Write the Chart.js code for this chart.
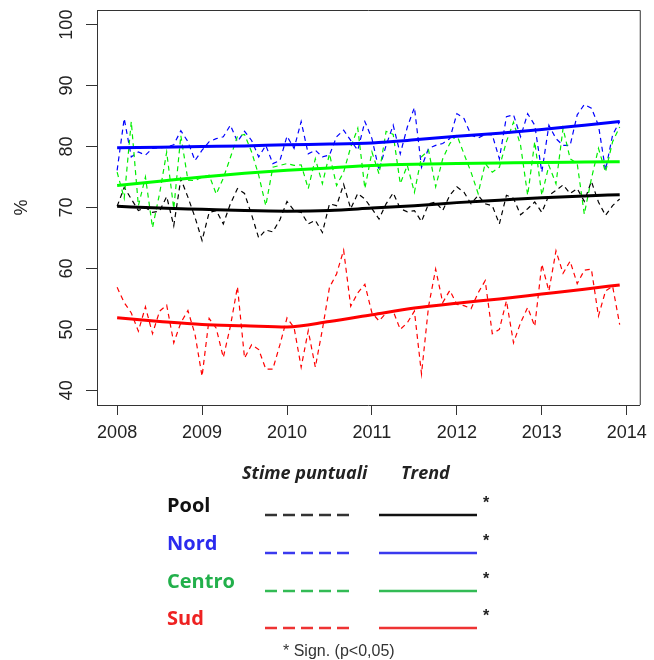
<!DOCTYPE html>
<html>
<head>
<meta charset="utf-8">
<script src="https://cdn.jsdelivr.net/npm/chart.js@4/dist/chart.umd.min.js"></script>
<style>
  html, body { margin: 0; padding: 0; background: #fff; overflow: hidden; }
  canvas { display: block; }
</style>
</head>
<body>
<canvas id="c" width="654" height="660"></canvas>
<script>
// Monthly point estimates, Jan 2008 - Dec 2013 (%)
const firstYear = 2008;
const yearTicks = [2008, 2009, 2010, 2011, 2012, 2013, 2014];
const valueTicks = [40, 50, 60, 70, 80, 90, 100];

const pool = [
  70.2, 73.3, 71.4, 69.5, 70.0, 69.2, 69.4, 71.8, 67.0, 74.7, 71.7, 68.4,
  64.6, 69.2, 69.5, 67.3, 70.6, 73.1, 72.3, 68.8, 65.0, 66.3, 66.0, 68.0,
  71.0, 69.5, 69.2, 67.3, 67.9, 65.9, 70.6, 70.3, 73.8, 69.8, 72.3, 71.4,
  69.8, 68.1, 70.6, 72.4, 69.8, 69.3, 69.5, 67.7, 70.6, 70.9, 69.5, 72.0,
  73.4, 72.5, 70.6, 72.0, 70.6, 70.3, 67.3, 72.0, 71.5, 68.8, 69.8, 70.9,
  69.2, 72.0, 72.8, 73.7, 72.3, 73.1, 71.0, 74.3, 70.9, 68.7, 70.3, 71.4
];
const nord = [
  76.1, 84.6, 78.3, 79.1, 78.6, 79.7, 79.8, 79.9, 80.3, 82.6, 80.8, 77.7,
  79.4, 80.8, 81.3, 81.6, 83.5, 80.8, 82.5, 81.0, 78.3, 80.2, 77.2, 77.7,
  81.7, 79.7, 84.1, 78.8, 79.4, 78.3, 78.6, 81.6, 82.7, 81.0, 79.4, 84.1,
  81.3, 76.1, 80.2, 83.5, 78.8, 83.2, 86.4, 76.6, 79.7, 80.2, 80.5, 81.3,
  85.4, 84.6, 81.9, 81.4, 82.0, 81.9, 78.0, 84.9, 85.2, 81.6, 85.4, 83.5,
  75.8, 83.5, 81.3, 80.2, 80.2, 85.2, 86.9, 86.3, 83.5, 76.1, 81.9, 84.1
];
const centro = [
  75.8, 71.5, 84.1, 70.3, 75.0, 66.7, 72.3, 79.1, 69.8, 81.8, 74.5, 74.4,
  75.0, 75.3, 72.2, 74.8, 78.2, 81.7, 82.0, 79.1, 75.3, 70.3, 76.6, 76.9,
  77.2, 76.9, 77.0, 73.1, 78.0, 73.9, 78.8, 73.6, 75.8, 79.9, 83.0, 73.1,
  79.1, 75.5, 82.5, 82.0, 73.9, 76.9, 72.5, 78.3, 79.4, 73.4, 78.0, 80.5,
  81.9, 78.8, 75.8, 72.3, 77.2, 75.8, 76.6, 80.8, 84.0, 80.2, 72.0, 80.8,
  72.0, 76.9, 73.9, 83.0, 78.0, 77.2, 68.9, 74.7, 79.7, 75.8, 80.8, 83.2
];
const sud = [
  56.9, 54.4, 52.7, 49.7, 53.7, 49.3, 53.0, 54.0, 47.8, 51.1, 53.1, 49.2,
  42.3, 51.8, 50.2, 45.4, 50.5, 57.0, 45.3, 47.5, 46.7, 43.5, 43.5, 47.5,
  51.9, 50.3, 43.8, 49.8, 43.8, 50.0, 56.9, 59.1, 63.0, 53.8, 56.0, 57.4,
  52.7, 51.4, 52.7, 53.0, 50.0, 51.1, 53.0, 42.7, 53.8, 59.9, 54.4, 56.4,
  54.1, 53.9, 53.4, 56.0, 58.0, 49.3, 50.0, 54.7, 47.8, 51.1, 53.6, 50.5,
  60.7, 56.3, 62.9, 59.2, 61.2, 57.5, 59.7, 59.9, 52.2, 56.3, 57.1, 50.8
];

// Smoothed trend, sampled every half year
const trendYears  = [2008, 2008.5, 2009, 2009.5, 2010, 2010.5, 2011, 2011.5, 2012, 2012.5, 2013, 2013.5, 2013.917];
const poolTrend   = [70.2, 69.9, 69.7, 69.5, 69.4, 69.5, 69.9, 70.3, 70.8, 71.2, 71.6, 71.9, 72.1];
const nordTrend   = [79.8, 79.9, 80.0, 80.1, 80.3, 80.4, 80.6, 81.1, 81.7, 82.2, 82.8, 83.5, 84.1];
const centroTrend = [73.6, 74.3, 75.0, 75.6, 76.1, 76.5, 76.9, 77.1, 77.2, 77.3, 77.4, 77.45, 77.5];
const sudTrend    = [51.9, 51.3, 50.8, 50.6, 50.4, 51.3, 52.4, 53.5, 54.3, 55.0, 55.8, 56.6, 57.3];

const monthly = arr => arr.map((v, i) => ({ x: firstYear + i / 12, y: v }));
const trend = arr => arr.map((v, i) => ({ x: trendYears[i], y: v }));

const FONT = '"Liberation Sans", Arial, sans-serif';

const trendSet = (data, color) => ({
  data: trend(data), borderColor: color, borderWidth: 3, pointRadius: 0,
  cubicInterpolationMode: 'monotone', fill: false
});
const dashSet = (data, color) => ({
  data: monthly(data), borderColor: color, borderWidth: 1.2, borderDash: [5, 4],
  pointRadius: 0, tension: 0, fill: false
});

// Frame, rotated value labels, axis title and the legend table under the plot
const decorations = {
  id: 'decorations',
  afterDraw(chart) {
    const ctx = chart.ctx;
    const a = chart.chartArea;
    const ys = chart.scales.y;
    ctx.save();
    ctx.strokeStyle = '#333';
    ctx.lineWidth = 1;
    ctx.beginPath();
    ctx.moveTo(a.left, a.top + 0.5);
    ctx.lineTo(a.right + 0.5, a.top + 0.5);
    ctx.lineTo(a.right + 0.5, a.bottom);
    ctx.stroke();

    ctx.fillStyle = '#222';
    ctx.font = '18px ' + FONT;
    ctx.textAlign = 'center';
    ctx.textBaseline = 'alphabetic';
    valueTicks.forEach(v => {
      ctx.save();
      ctx.translate(72, ys.getPixelForValue(v));
      ctx.rotate(-Math.PI / 2);
      ctx.fillText(String(v), 0, 0);
      ctx.restore();
    });
    ctx.save();
    ctx.translate(27, ys.getPixelForValue(70));
    ctx.rotate(-Math.PI / 2);
    ctx.fillText('%', 0, 0);
    ctx.restore();

    // legend table
    const LF = '"Open Sans", "Liberation Sans", sans-serif';
    ctx.textAlign = 'left';
    ctx.fillStyle = '#222';
    ctx.font = 'italic bold 18px ' + LF;
    ctx.fillText('Stime puntuali', 242, 479);
    ctx.fillText('Trend', 401, 479);

    const rows = [
      { name: 'Pool',   text: '#111111', dash: '#333333', line: '#111111', y: 515 },
      { name: 'Nord',   text: '#2b2bee', dash: '#3a3aee', line: '#3a3aee', y: 553 },
      { name: 'Centro', text: '#22b04b', dash: '#33bb55', line: '#33bb55', y: 591 },
      { name: 'Sud',    text: '#ee2222', dash: '#ee3333', line: '#ee3333', y: 628 }
    ];
    rows.forEach(r => {
      ctx.font = 'bold 20px ' + LF;
      ctx.fillStyle = r.text;
      ctx.fillText(r.name, 167, r.y - 3);
      ctx.lineWidth = 2.5;
      ctx.strokeStyle = r.dash;
      ctx.setLineDash([12, 6]);
      ctx.beginPath();
      ctx.moveTo(265, r.y);
      ctx.lineTo(349, r.y);
      ctx.stroke();
      ctx.setLineDash([]);
      ctx.strokeStyle = r.line;
      ctx.beginPath();
      ctx.moveTo(379, r.y);
      ctx.lineTo(477, r.y);
      ctx.stroke();
      ctx.fillStyle = '#222';
      ctx.font = 'bold 16px ' + FONT;
      ctx.fillText('*', 483, r.y - 7);
    });
    ctx.fillStyle = '#333';
    ctx.font = '16px ' + FONT;
    ctx.fillText('* Sign. (p<0,05)', 283, 656);
    ctx.restore();
  }
};

new Chart(document.getElementById('c'), {
  type: 'line',
  data: {
    datasets: [
      trendSet(sudTrend, '#ff0000'),
      trendSet(centroTrend, '#00ff00'),
      trendSet(nordTrend, '#0000ff'),
      trendSet(poolTrend, '#000000'),
      dashSet(sud, '#ff0000'),
      dashSet(centro, '#00ee00'),
      dashSet(nord, '#0000ff'),
      dashSet(pool, '#000000')
    ]
  },
  options: {
    responsive: false,
    animation: false,
    devicePixelRatio: 1,
    parsing: false,
    layout: { padding: { left: 0, top: 10, right: 9, bottom: 0 } },
    plugins: { legend: { display: false }, tooltip: { enabled: false } },
    scales: {
      x: {
        type: 'linear',
        min: 2007.763,
        max: 2014.153,
        afterBuildTicks: s => { s.ticks = yearTicks.map(v => ({ value: v })); },
        afterFit: s => { s.height = 255; },
        grid: { drawOnChartArea: false, drawTicks: true, tickLength: 10, color: '#333', lineWidth: 1 },
        border: { display: true, color: '#333', width: 1 },
        ticks: { color: '#222', font: { family: FONT, size: 18 }, padding: 7, maxRotation: 0, callback: v => String(v) }
      },
      y: {
        type: 'linear',
        min: 37.6,
        max: 102.4,
        afterBuildTicks: s => { s.ticks = valueTicks.map(v => ({ value: v })); },
        afterFit: s => { s.width = 97; },
        grid: { drawOnChartArea: false, drawTicks: true, tickLength: 11, color: '#333', lineWidth: 1 },
        border: { display: true, color: '#333', width: 1 },
        ticks: { display: false }
      }
    }
  },
  plugins: [decorations]
});
</script>
</body>
</html>
